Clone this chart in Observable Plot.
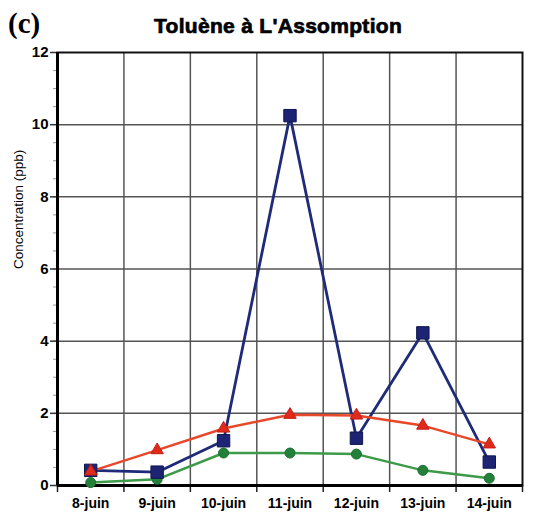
<!DOCTYPE html>
<html>
<head>
<meta charset="utf-8">
<script src="https://cdn.jsdelivr.net/npm/d3@7"></script>
<script src="https://cdn.jsdelivr.net/npm/@observablehq/plot@0.6"></script>
<style>
  html, body { margin: 0; padding: 0; background: #fff; }
  #wrap { position: relative; width: 540px; height: 516px; }
  #panel { position: absolute; left: 8px; top: 7px; font: bold 29px "Liberation Serif", serif; }
  #title { position: absolute; left: 0; width: 556px; top: 14px; text-align: center;
           font: bold 21px "Liberation Sans", Arial, sans-serif; letter-spacing: 0.3px;
           -webkit-text-stroke: 0.7px #000; }
  #chart { position: absolute; left: 0; top: 0; }
</style>
</head>
<body>
<div id="wrap">
  <div id="chart"></div>
  <div id="panel">(c)</div>
  <div id="title">Toluène à L'Assomption</div>
</div>
<script>
// Daily toluene concentrations (ppb), three series
const days = ["8-juin", "9-juin", "10-juin", "11-juin", "12-juin", "13-juin", "14-juin"];
const seriesBlue  = [0.42, 0.37, 1.24, 10.25, 1.31, 4.23, 0.65];
const seriesRed   = [0.39, 0.98, 1.58, 1.96, 1.94, 1.66, 1.14];
const seriesGreen = [0.08, 0.17, 0.90, 0.90, 0.87, 0.42, 0.20];
const yTicks = [0, 2, 4, 6, 8, 10, 12];

const rows = (vals) => vals.map((v, i) => ({i, v}));
const blue = rows(seriesBlue), red = rows(seriesRed), green = rows(seriesGreen);
const bounds = d3.range(days.length + 1).map(k => k - 0.5);
const minor = d3.range(0, 12.01, 0.5);

const chart = Plot.plot({
  width: 540,
  height: 516,
  marginTop: 52,
  marginBottom: 31,
  marginLeft: 57,
  marginRight: 18,
  style: {fontFamily: "'Liberation Sans', Arial, sans-serif", background: "white"},
  x: {type: "linear", domain: [-0.5, days.length - 0.5], label: null},
  y: {domain: [0, 12], label: null},
  marks: [
    // grid
    Plot.ruleY(yTicks.slice(1, -1), {stroke: "#555", strokeWidth: 1.5}),
    Plot.ruleX(bounds.slice(1, -1), {stroke: "#555", strokeWidth: 1.5}),
    // minor y ticks
    Plot.axisY({ticks: minor, tickSize: 4, tickFormat: () => "", stroke: "#999", strokeWidth: 1, label: null}),
    // major y ticks & labels
    Plot.axisY({ticks: yTicks, tickSize: 7, tickPadding: 2, stroke: "#333", strokeWidth: 1.5,
                fontSize: 15, fontWeight: "bold", fill: "#000", label: null}),
    // x boundary ticks
    Plot.axisX({ticks: bounds, tickSize: 7, tickFormat: () => "", stroke: "#222", strokeWidth: 1.5, label: null}),
    // x labels
    Plot.axisX({ticks: d3.range(days.length), tickSize: 0, tickPadding: 13,
                tickFormat: i => days[i], fontSize: 14, fontWeight: "bold", fill: "#000", label: null}),
    Plot.text(["Concentration (ppb)"], {frameAnchor: "left", dx: -39, rotate: -90,
                fontSize: 13.5, fill: "#000"}),
    // frame
    Plot.frame({stroke: "#111", strokeWidth: 2}),
    Plot.ruleX([-0.5], {stroke: "#000", strokeWidth: 3}),
    Plot.ruleY([0], {stroke: "#000", strokeWidth: 3}),
    // series
    Plot.line(green, {x: "i", y: "v", stroke: "#3c9a48", strokeWidth: 2.5}),
    Plot.line(blue, {x: "i", y: "v", stroke: "#1f2a78", strokeWidth: 2.8}),
    Plot.line(red, {x: "i", y: "v", stroke: "#e8482a", strokeWidth: 2.5}),
    Plot.dot(green, {x: "i", y: "v", symbol: "circle", r: 5, fill: "#23803a", stroke: "#1d6e30", strokeWidth: 1}),
    Plot.dot(blue, {x: "i", y: "v", symbol: "square", r: 7, fill: "#1c2473", stroke: "#101650", strokeWidth: 1}),
    Plot.dot(red, {x: "i", y: "v", symbol: "triangle", r: 4.6, fill: "#e02a1c", stroke: "#c51d14", strokeWidth: 1})
  ]
});
document.getElementById("chart").appendChild(chart);
</script>
</body>
</html>
